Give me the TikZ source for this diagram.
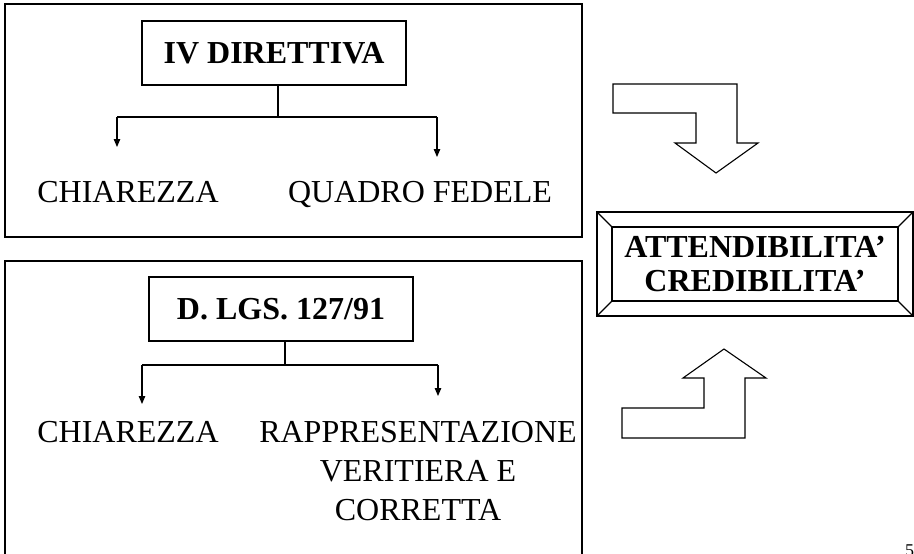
\documentclass[tikz,border=0pt]{standalone}
\usepackage{fontspec}
\setmainfont{Liberation Serif}
\usetikzlibrary{arrows.meta,calc}
\tikzset{
  ln/.style={line width=1.1pt, draw=black},
  panel/.style={ln},
  titlebox/.style={ln, rectangle, minimum width=264pt, minimum height=64pt, inner sep=0pt,
    font=\fontsize{32}{39}\selectfont\bfseries},
  lbl/.style={inner sep=0pt, font=\fontsize{32}{39}\selectfont},
  arr/.style={ln, -{Triangle[width=6.5pt,length=8pt]}},
  blockarrow/.style={line width=1.1pt, draw=black, fill=white, line join=miter}
}
\begin{document}
\begin{tikzpicture}[x=1pt,y=-1pt]
\useasboundingbox (0,0) rectangle (914,554);
% panels
\draw[panel] (5,4) rectangle (582,237);
\draw[panel] (5,570) |- (582,261) -- (582,570);
% top panel
\node[titlebox] (dir) at (274,53) {IV DIRETTIVA};
\coordinate (j1) at (278,117);
\coordinate (l1) at (117,117);
\coordinate (r1) at (437,117);
\coordinate (l1e) at (117,147);
\coordinate (r1e) at (437,157);
\draw[ln] (dir.south -| j1) -- (j1);
\draw[ln] (l1) -- (r1);
\draw[arr] (l1) -- (l1e);
\draw[arr] (r1) -- (r1e);
\node[lbl, anchor=base] (chi1) at (128,202) {CHIAREZZA};
\node[lbl, anchor=base] (qf) at (420,202) {QUADRO FEDELE};
% bottom panel
\node[titlebox] (dlgs) at (281,309) {D. LGS. 127/91};
\coordinate (j2) at (285,365);
\coordinate (l2) at (142,365);
\coordinate (r2) at (438,365);
\coordinate (l2e) at (142,404);
\coordinate (r2e) at (438,396);
\draw[ln] (dlgs.south -| j2) -- (j2);
\draw[ln] (l2) -- (r2);
\draw[arr] (l2) -- (l2e);
\draw[arr] (r2) -- (r2e);
\node[lbl, anchor=base] (chi2) at (128,442) {CHIAREZZA};
\node[lbl, anchor=north, align=center] (rvc) at (418,421) {RAPPRESENTAZIONE\\VERITIERA E\\CORRETTA};
% bevel box
\coordinate (o1) at (597,212);
\coordinate (o2) at (913,316);
\coordinate (i1) at (612,227);
\coordinate (i2) at (898,301);
\draw[ln] (o1) rectangle (o2);
\draw[ln] (i1) rectangle (i2);
\draw[ln] (o1) -- (i1);
\draw[ln] (o2) -- (i2);
\draw[ln] (o1 -| o2) -- (i1 -| i2);
\draw[ln] (o1 |- o2) -- (i1 |- i2);
\node[lbl, align=center, font=\fontsize{32}{34}\selectfont\bfseries] (att) at (755,264) {ATTENDIBILITA’\\CREDIBILITA’};
% block arrows
\draw[blockarrow] (613,84) -- (737,84) -- (737,143) -- (758,143) -- (716,173) -- (675,143) -- (696,143) -- (696,113) -- (613,113) -- cycle;
\draw[blockarrow] (622,438) -- (745,438) -- (745,378) -- (766,378) -- (724,349) -- (683,378) -- (704,378) -- (704,408) -- (622,408) -- cycle;
% page number (cut off)
\node[inner sep=0pt, anchor=north west, font=\fontsize{18}{20}\selectfont] (pg) at (905,545) {5};
\end{tikzpicture}
\end{document}
